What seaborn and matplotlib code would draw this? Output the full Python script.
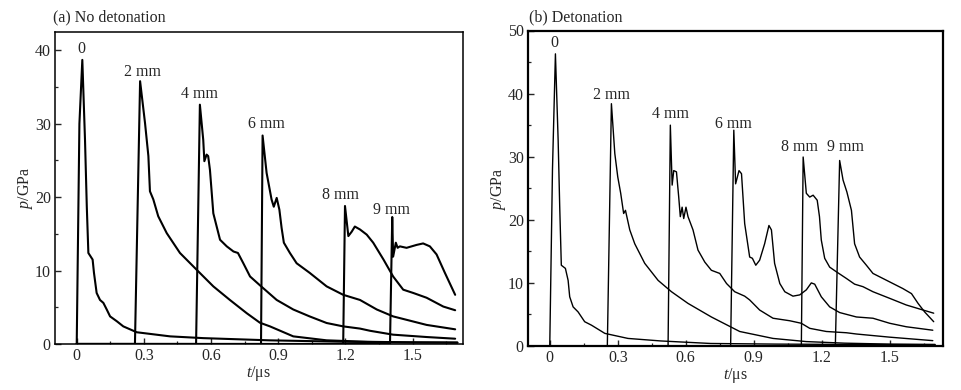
import numpy as np
import pandas as pd
import matplotlib
matplotlib.use("Agg")
import matplotlib.pyplot as plt
import seaborn as sns
from matplotlib.ticker import MultipleLocator

# ---------------- data ----------------
labels = ["0", "2 mm", "4 mm", "6 mm", "8 mm", "9 mm"]

# (a) No detonation
a0_t = [0, 0.0, 0.012, 0.025, 0.037, 0.045, 0.052, 0.071, 0.077, 0.089, 0.104, 0.119, 0.134, 0.149, 0.179, 0.208, 0.268, 0.417, 0.565, 0.86, 1.2, 1.5, 1.7]
a0_p = [0, 0, 30, 38.7, 27.8, 18.7, 12.4, 11.5, 9.7, 6.95, 6.0, 5.6, 4.7, 3.76, 3.1, 2.4, 1.6, 1.04, 0.8, 0.5, 0.3, 0.22, 0.2]
a2_t = [0, 0.26, 0.283, 0.305, 0.32, 0.327, 0.342, 0.364, 0.402, 0.461, 0.536, 0.61, 0.684, 0.759, 0.818, 0.863, 0.967, 1.116, 1.3, 1.5, 1.7]
a2_p = [0, 0, 35.8, 30.1, 25.6, 20.8, 19.7, 17.4, 15.1, 12.4, 10.1, 7.85, 6.0, 4.2, 2.9, 2.4, 1.04, 0.5, 0.3, 0.22, 0.18]
a4_t = [0, 0.533, 0.55, 0.565, 0.57, 0.58, 0.587, 0.595, 0.61, 0.625, 0.64, 0.67, 0.70, 0.72, 0.744, 0.774, 0.818, 0.893, 0.967, 1.04, 1.116, 1.19, 1.265, 1.31, 1.413, 1.5625, 1.69]
a4_p = [0, 0, 32.6, 27.8, 24.9, 25.8, 25.6, 23.7, 17.8, 16.0, 14.2, 13.3, 12.6, 12.4, 11.0, 9.2, 8.0, 6.0, 4.7, 3.76, 2.86, 2.4, 2.1, 1.8, 1.27, 0.95, 0.72]
a6_t = [0, 0.823, 0.83, 0.848, 0.87, 0.88, 0.893, 0.905, 0.915, 0.925, 0.952, 0.982, 1.04, 1.116, 1.19, 1.265, 1.34, 1.413, 1.5625, 1.69]
a6_p = [0, 0, 28.4, 23.3, 19.7, 18.7, 19.9, 18.3, 15.8, 13.8, 12.4, 11.0, 9.7, 7.85, 6.7, 6.0, 4.7, 3.76, 2.6, 2.0]
a8_t = [0, 1.19, 1.198, 1.213, 1.228, 1.242, 1.265, 1.295, 1.324, 1.37, 1.413, 1.458, 1.503, 1.5625, 1.637, 1.69]
a8_p = [0, 0, 18.8, 14.7, 15.3, 16.0, 15.6, 14.9, 13.8, 11.5, 9.2, 7.4, 6.95, 6.3, 5.1, 4.6]
a9_t = [0, 1.399, 1.409, 1.413, 1.425, 1.433, 1.443, 1.473, 1.518, 1.547, 1.577, 1.607, 1.644, 1.69]
a9_p = [0, 0, 17.3, 11.9, 13.8, 13.1, 13.3, 13.1, 13.5, 13.7, 13.3, 12.2, 9.7, 6.7]

# (b) Detonation
b0_t = [0, 0.0, 0.012, 0.025, 0.037, 0.044, 0.051, 0.069, 0.081, 0.088, 0.103, 0.125, 0.154, 0.184, 0.243, 0.345, 0.49, 0.71, 1.0, 1.3, 1.7]
b0_p = [0, 0, 28, 46.3, 32.6, 22.0, 12.8, 12.3, 10.4, 7.8, 6.2, 5.4, 3.85, 3.3, 2.0, 1.2, 0.8, 0.4, 0.3, 0.25, 0.2]
b2_t = [0, 0.254, 0.272, 0.287, 0.30, 0.313, 0.326, 0.334, 0.353, 0.375, 0.419, 0.478, 0.537, 0.61, 0.713, 0.838, 0.985, 1.132, 1.3, 1.5, 1.7]
b2_p = [0, 0, 38.4, 30.5, 26.8, 24.2, 21.0, 21.5, 18.4, 16.2, 13.1, 10.4, 8.6, 6.75, 4.6, 2.3, 1.2, 0.7, 0.45, 0.3, 0.25]
b4_t = [0, 0.522, 0.532, 0.54, 0.547, 0.559, 0.569, 0.576, 0.584, 0.591, 0.601, 0.61, 0.632, 0.654, 0.684, 0.713, 0.75, 0.78, 0.816, 0.86, 0.882, 0.926, 0.985, 1.059, 1.11, 1.147, 1.22, 1.309, 1.353, 1.5, 1.69]
b4_p = [0, 0, 35.0, 25.5, 27.8, 27.6, 23.6, 20.5, 22.0, 20.2, 22.0, 20.5, 18.4, 15.2, 13.3, 12.0, 11.5, 9.9, 8.6, 7.9, 7.3, 5.7, 4.4, 4.0, 3.6, 2.8, 2.3, 2.1, 1.9, 1.4, 0.85]
b6_t = [0, 0.798, 0.812, 0.82, 0.835, 0.846, 0.86, 0.882, 0.894, 0.909, 0.926, 0.948, 0.967, 0.978, 0.992, 1.015, 1.037, 1.073, 1.103, 1.132, 1.154, 1.169, 1.198, 1.235, 1.279, 1.353, 1.426, 1.5, 1.573, 1.69]
b6_p = [0, 0, 34.2, 25.7, 27.8, 27.3, 19.4, 14.1, 13.9, 12.8, 13.6, 16.2, 19.1, 18.4, 13.1, 9.9, 8.6, 7.9, 8.1, 8.9, 10.0, 9.8, 7.8, 6.2, 5.3, 4.6, 4.4, 3.6, 3.05, 2.5]
b8_t = [0, 1.11, 1.118, 1.132, 1.147, 1.162, 1.18, 1.19, 1.198, 1.213, 1.235, 1.265, 1.309, 1.345, 1.382, 1.426, 1.5, 1.573, 1.647, 1.694]
b8_p = [0, 0, 29.95, 24.2, 23.6, 23.9, 23.1, 20.5, 16.8, 13.9, 12.5, 11.75, 10.7, 9.8, 9.4, 8.6, 7.55, 6.5, 5.7, 5.2]
b9_t = [0, 1.26, 1.279, 1.294, 1.311, 1.331, 1.345, 1.367, 1.397, 1.426, 1.47, 1.514, 1.558, 1.596, 1.625, 1.654, 1.694]
b9_p = [0, 0, 29.4, 26.3, 24.4, 21.5, 16.2, 14.1, 12.8, 11.5, 10.7, 9.9, 9.1, 8.3, 6.75, 5.4, 3.85]

# label anchor positions (t, p)
a_lab_t = [0.02, 0.295, 0.55, 0.845, 1.18, 1.406]
a_lab_p = [40.2, 37.1, 34.0, 29.9, 20.3, 18.3]
b_lab_t = [0.022, 0.272, 0.532, 0.81, 1.10, 1.306]
b_lab_p = [48.0, 39.7, 36.7, 35.2, 31.5, 31.5]

x_ticks = [0, 0.3, 0.6, 0.9, 1.2, 1.5]
x_ticklabels = ["0", "0.3", "0.6", "0.9", "1.2", "1.5"]


def make_df(ts, ps):
    frames = []
    for lab, t, p in zip(labels, ts, ps):
        frames.append(pd.DataFrame({"t": t, "p": p, "curve": lab}))
    return pd.concat(frames, ignore_index=True)


df_a = make_df([a0_t, a2_t, a4_t, a6_t, a8_t, a9_t], [a0_p, a2_p, a4_p, a6_p, a8_p, a9_p])
df_b = make_df([b0_t, b2_t, b4_t, b6_t, b8_t, b9_t], [b0_p, b2_p, b4_p, b6_p, b8_p, b9_p])

# ---------------- style ----------------
sns.set_style("ticks")
plt.rcParams["font.family"] = ["Liberation Serif", "DejaVu Serif"]
plt.rcParams["mathtext.fontset"] = "custom"
plt.rcParams["mathtext.rm"] = "Liberation Serif"
plt.rcParams["mathtext.it"] = "Liberation Serif:italic"
FS = 11.5

fig = plt.figure(figsize=(9.62, 3.90), dpi=100)
ax_a = fig.add_axes([55 / 962, 1 - 344 / 390, 408 / 962, 312 / 390])
ax_b = fig.add_axes([528 / 962, 1 - 346 / 390, 415 / 962, 315.5 / 390])


def setup(ax, df, lw, frame_lw, ylim, xlim, yticks, lab_t, lab_p):
    sns.lineplot(data=df, x="t", y="p", units="curve", estimator=None, sort=False,
                 color="black", lw=lw, ax=ax, legend=False)
    ax.set_xlim(*xlim)
    ax.set_ylim(*ylim)
    ax.set_xticks(x_ticks)
    ax.set_xticklabels(x_ticklabels)
    ax.set_yticks(yticks)
    ax.xaxis.set_minor_locator(MultipleLocator(0.15))
    ax.yaxis.set_minor_locator(MultipleLocator(5))
    ax.tick_params(which="major", direction="in", length=4, width=1.0, labelsize=FS, pad=3,
                   top=False, right=False)
    ax.tick_params(which="minor", direction="in", length=2.5, width=0.9, top=False, right=False)
    for s in ax.spines.values():
        s.set_visible(True)
        s.set_linewidth(frame_lw)
        s.set_color("black")
    ax.set_xlabel(r"$t$/μs", fontsize=FS, labelpad=0)
    ax.set_ylabel(r"$p$/GPa", fontsize=FS, labelpad=0)
    for lab, t, p in zip(labels, lab_t, lab_p):
        ax.text(t, p, lab, ha="center", va="center", fontsize=FS)


setup(ax_a, df_a, 1.5, 1.1, (0, 42.5), (-0.097, 1.725), [0, 10, 20, 30, 40], a_lab_t, a_lab_p)
setup(ax_b, df_b, 1.0, 1.6, (0, 50), (-0.096, 1.735), [0, 10, 20, 30, 40, 50], b_lab_t, b_lab_p)

fig.text(53 / 962, 1 - 17 / 390, "(a) No detonation", fontsize=FS, ha="left", va="center")
fig.text(529 / 962, 1 - 17 / 390, "(b) Detonation", fontsize=FS, ha="left", va="center")

fig.savefig("out.png", dpi=100, facecolor="white")
